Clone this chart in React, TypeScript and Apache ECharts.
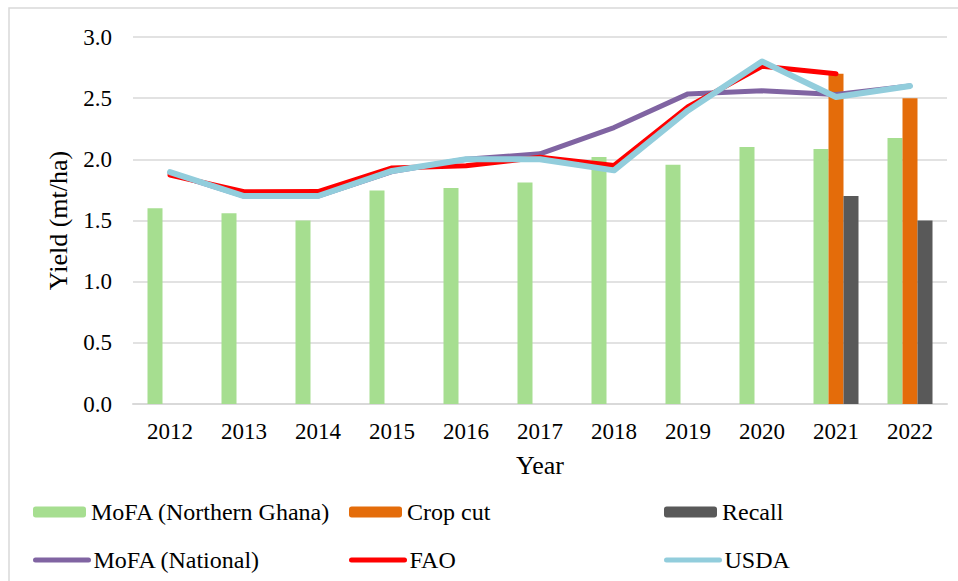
import React, { useEffect, useRef } from "react";
import * as echarts from "echarts";

const years = ["2012", "2013", "2014", "2015", "2016", "2017", "2018", "2019", "2020", "2021", "2022"];
const mofaNorthern = [1.6, 1.56, 1.5, 1.745, 1.765, 1.81, 2.02, 1.955, 2.1, 2.085, 2.175];
const cropCut = [null, null, null, null, null, null, null, null, null, 2.7, 2.5];
const recall = [null, null, null, null, null, null, null, null, null, 1.7, 1.5];
const mofaNational = [1.89, 1.7, 1.7, 1.9, 2.0, 2.045, 2.26, 2.535, 2.56, 2.53, 2.6];
const fao = [1.872, 1.735, 1.737, 1.93, 1.948, 2.017, 1.95, 2.43, 2.76, 2.7, null];
const usda = [1.895, 1.7, 1.7, 1.905, 2.0, 2.0, 1.91, 2.4, 2.8, 2.51, 2.6];
const yTicks = { min: 0, max: 3, interval: 0.5 };

const FONT = "Liberation Serif, Times New Roman, serif";

export default function App() {
  const ref = useRef<HTMLDivElement>(null);
  useEffect(() => {
    if (!ref.current) return;
    const chart = echarts.init(ref.current, undefined, { renderer: "svg" });
    const legendText = { fontFamily: FONT, fontSize: 24, color: "#000", lineHeight: 24 };
    const mkLegend = (name: string, left: number, top: number, isLine: boolean, color: string) => ({
      data: [name],
      left,
      top,
      itemWidth: 53,
      itemHeight: 11,
      itemGap: 5,
      padding: 0,
      textStyle: legendText,
      selectedMode: false,
      ...(isLine
        ? {
            itemStyle: { opacity: 0 },
            lineStyle: { color, width: 5, cap: "round", opacity: 1 },
          }
        : {}),
    });
    chart.setOption({
      animation: false,
      backgroundColor: "#fff",
      textStyle: { fontFamily: FONT },
      graphic: [
        {
          type: "rect",
          shape: { x: 9, y: 8, width: 1000, height: 1000 },
          style: { fill: "none", stroke: "#d9d9d9", lineWidth: 1.5 },
          silent: true,
        },
      ],
      legend: [
        mkLegend("MoFA (Northern Ghana)", 33, 500, false, "#a6de90"),
        mkLegend("Crop cut", 349, 500, false, "#e46c0a"),
        mkLegend("Recall", 664, 500, false, "#595959"),
        mkLegend("MoFA (National)", 33, 548, true, "#8064a2"),
        mkLegend("FAO", 349, 548, true, "#ff0000"),
        mkLegend("USDA", 664, 548, true, "#92cddc"),
      ],
      grid: { left: 133, right: 11, top: 37, bottom: 177, containLabel: false },
      xAxis: {
        type: "category",
        data: years,
        name: "Year",
        nameLocation: "middle",
        nameGap: 48,
        nameTextStyle: { fontFamily: FONT, fontSize: 26, color: "#000" },
        axisLine: { lineStyle: { color: "#d9d9d9", width: 2 } },
        axisTick: { show: false },
        axisLabel: { fontFamily: FONT, fontSize: 23, color: "#000", margin: 16 },
      },
      yAxis: {
        type: "value",
        min: yTicks.min,
        max: yTicks.max,
        interval: yTicks.interval,
        name: "Yield (mt/ha)",
        nameLocation: "middle",
        nameGap: 62,
        nameTextStyle: { fontFamily: FONT, fontSize: 26, color: "#000" },
        axisLine: { show: false },
        axisTick: { show: false },
        splitLine: { lineStyle: { color: "#d9d9d9", width: 1.5 } },
        axisLabel: {
          fontFamily: FONT,
          fontSize: 23,
          color: "#000",
          margin: 21,
          formatter: (v: number) => v.toFixed(1),
        },
      },
      series: [
        {
          name: "MoFA (Northern Ghana)",
          type: "bar",
          data: mofaNorthern,
          barWidth: 15,
          barGap: "0%",
          itemStyle: { color: "#a6de90" },
        },
        {
          name: "Crop cut",
          type: "bar",
          data: cropCut,
          barWidth: 15,
          barGap: "0%",
          itemStyle: { color: "#e46c0a" },
        },
        {
          name: "Recall",
          type: "bar",
          data: recall,
          barWidth: 15,
          barGap: "0%",
          itemStyle: { color: "#595959" },
        },
        {
          name: "MoFA (National)",
          type: "line",
          data: mofaNational,
          symbol: "none",
          lineStyle: { color: "#8064a2", width: 5, cap: "round", join: "round" },
          itemStyle: { color: "#8064a2" },
        },
        {
          name: "FAO",
          type: "line",
          data: fao,
          symbol: "none",
          connectNulls: false,
          lineStyle: { color: "#ff0000", width: 5, cap: "round", join: "round" },
          itemStyle: { color: "#ff0000" },
        },
        {
          name: "USDA",
          type: "line",
          data: usda,
          symbol: "none",
          lineStyle: { color: "#92cddc", width: 6, cap: "round", join: "round" },
          itemStyle: { color: "#92cddc" },
        },
      ],
    });
    return () => chart.dispose();
  }, []);
  return (
    <div
      ref={ref}
      style={{ position: "fixed", left: 0, top: 0, width: 958, height: 581, background: "#fff" }}
    />
  );
}
